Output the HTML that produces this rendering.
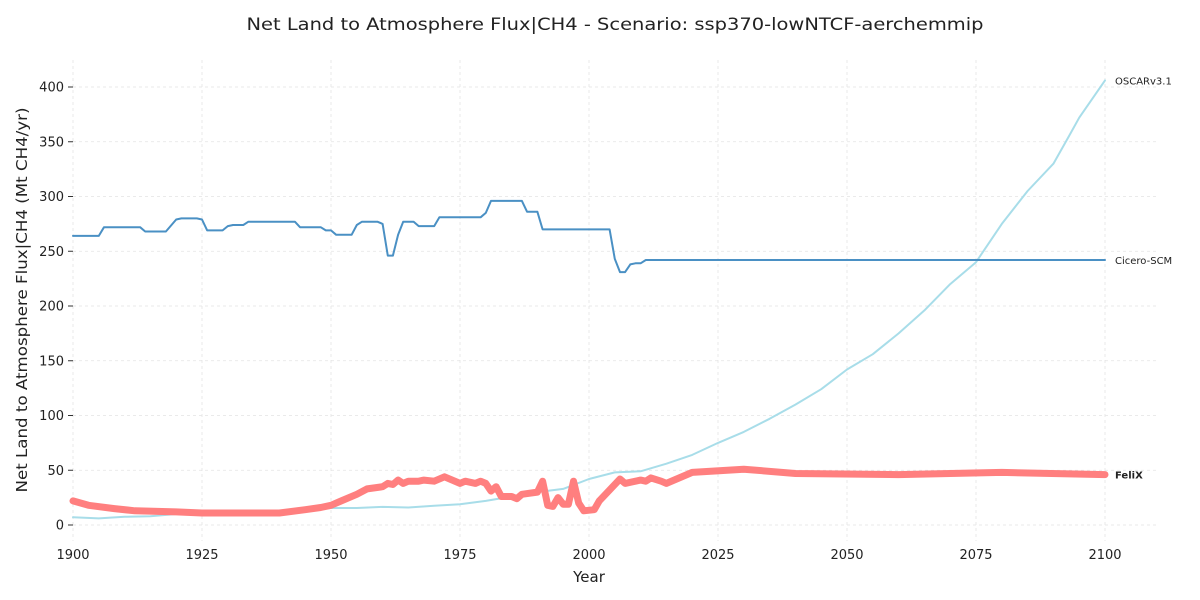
<!DOCTYPE html>
<html><head><meta charset="utf-8"><style>
body{margin:0;background:#fff;}
svg{display:block;font-family:"DejaVu Sans","Liberation Sans",sans-serif;}
</style></head><body>
<svg id="chart" width="1200" height="600">
<text x="615" y="30" text-anchor="middle" font-size="17" fill="#222" textLength="737" lengthAdjust="spacingAndGlyphs">Net Land to Atmosphere Flux|CH4 - Scenario: ssp370-lowNTCF-aerchemmip</text>
<g id="grid"></g>
<g id="axes"></g>
<g id="series"></g>
<text x="589" y="582" text-anchor="middle" font-size="15" fill="#222">Year</text>
<text transform="translate(27,300) rotate(-90)" text-anchor="middle" font-size="15" fill="#222" textLength="385" lengthAdjust="spacingAndGlyphs">Net Land to Atmosphere Flux|CH4 (Mt CH4/yr)</text>
</svg>
<script>
const xTicks=[1900,1925,1950,1975,2000,2025,2050,2075,2100];
const yTicks=[0,50,100,150,200,250,300,350,400];
const ciceroYears=[1900,1905,1906,1913,1914,1918,1920,1921,1924,1925,1926,1929,1930,1931,1933,1934,1943,1944,1948,1949,1950,1951,1954,1955,1956,1959,1960,1961,1962,1963,1964,1966,1967,1970,1971,1979,1980,1981,1987,1988,1990,1991,2004,2005,2006,2007,2008,2009,2010,2011,2100];
const ciceroValues=[264,264,272,272,268,268,279,280,280,279,269,269,273,274,274,277,277,272,272,269,269,265,265,274,277,277,275,246,246,265,277,277,273,273,281,281,285,296,296,286,286,270,270,243,231,231,238,239,239,242,242];
const oscarYears=[1900,1905,1910,1915,1920,1925,1930,1935,1940,1945,1950,1955,1960,1965,1970,1975,1980,1985,1990,1995,2000,2005,2010,2015,2020,2025,2030,2035,2040,2045,2050,2055,2060,2065,2070,2075,2080,2085,2090,2093,2095,2100];
const oscarValues=[7,6,7.5,8,10,11,12,12.5,13,14,15.5,15.5,16.5,16,17.5,19,22,26,30,33,42,48,49,56,64,75,85,97,110,124,142,156,175,196,220,240,275,305,330,355,372,406];
const felixYears=[1900,1903,1908,1912,1920,1925,1930,1940,1945,1948,1950,1952,1955,1957,1960,1961,1962,1963,1964,1965,1967,1968,1970,1972,1975,1976,1978,1979,1980,1981,1982,1983,1985,1986,1987,1990,1991,1992,1993,1994,1995,1996,1997,1998,1999,2001,2002,2004,2006,2007,2010,2011,2012,2014,2015,2020,2030,2040,2060,2080,2100];
const felixValues=[22,18,15,13,12,11,11,11,14,16,18,22,28,33,35,38,37,41,38,40,40,41,40,44,38,40,38,40,38,31,35,26,26,24,28,30,40,18,17,25,19,19,40,20,13,14,22,32,42,38,41,40,43,40,38,48,51,47,46,48,46];
const X=v=>73+(v-1900)*5.16;
const Y=v=>525-v*1.095;
const NS="http://www.w3.org/2000/svg";
function mk(tag,attrs,parent){const e=document.createElementNS(NS,tag);for(const k in attrs)e.setAttribute(k,attrs[k]);parent.appendChild(e);return e;}
const grid=document.getElementById('grid'),axes=document.getElementById('axes'),series=document.getElementById('series');
xTicks.forEach(t=>{
 const l=mk('line',{x1:X(t),x2:X(t),y1:60,y2:541,stroke:'#e3e3e3','stroke-dasharray':'3,3','stroke-width':0.8},grid);
 
 
 const tx=mk('text',{x:X(t),y:559,'text-anchor':'middle','font-size':13,fill:'#222'},axes);
 tx.textContent=t;
 
 
});
yTicks.forEach(t=>{
 const l=mk('line',{x1:73,x2:1157,y1:Y(t),y2:Y(t),stroke:'#e3e3e3','stroke-dasharray':'3,3','stroke-width':0.8},grid);
 
 
 const tk=mk('line',{x1:68,x2:73,y1:Y(t),y2:Y(t),stroke:'#333','stroke-width':1},axes);
 
 
 const tx=mk('text',{x:64,y:Y(t)+4.5,'text-anchor':'end','font-size':13,fill:'#222'},axes);
 tx.textContent=t;
 
 
});
function line(xs,vs,color,w,name){
 const d=xs.map((x,i)=>(i?'L':'M')+X(x).toFixed(1)+','+Y(vs[i]).toFixed(1)).join('');
 const p=mk('path',{d:d,fill:'none',stroke:color,'stroke-width':w,'stroke-linejoin':'round','stroke-linecap':'round'},series);
 
 
}
line(oscarYears,oscarValues,'#a8dde9',2,'oscar-line');
line(felixYears,felixValues,'#ff7f7f',7,'felix-line');
line(ciceroYears,ciceroValues,'#4a90c4',2,'cicero-line');
function lab(txt,v,bold,name){
 const t=mk('text',{x:1115,y:Y(v)+4,'font-size':10,fill:'#222','font-weight':bold?'bold':'normal'},series);
 t.textContent=txt;
 
 
}
lab('OSCARv3.1',oscarValues[oscarValues.length-1],false,'oscar-label');
lab('Cicero-SCM',ciceroValues[ciceroValues.length-1],false,'cicero-label');
lab('FeliX',felixValues[felixValues.length-1],true,'felix-label');
</script>
</body></html>
